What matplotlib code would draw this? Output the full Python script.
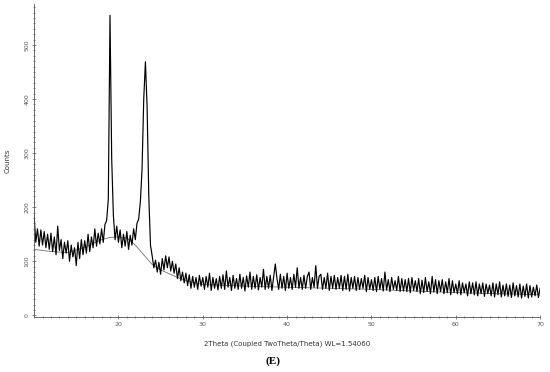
import matplotlib
matplotlib.use("Agg")
import numpy as np
import matplotlib.pyplot as plt
from matplotlib.ticker import MultipleLocator

# scan: 10 -> 70 deg, 0.2 deg step
two_theta_start = 10.0
two_theta_step = 0.2
counts = [
    185, 135, 160, 128, 158, 130, 155, 125, 150, 122,
    152, 118, 145, 112, 165, 120, 140, 105, 135, 115,
    138, 100, 130, 108, 125, 92, 135, 105, 140, 112,
    138, 115, 150, 118, 145, 125, 160, 128, 152, 132,
    160, 135, 168, 175, 215, 555, 290, 185, 140, 165,
    135, 158, 125, 150, 128, 155, 122, 148, 130, 160,
    140, 170, 178, 210, 270, 400, 469, 385, 220, 130,
    110, 88, 102, 80, 98, 76, 105, 84, 110, 88,
    108, 82, 100, 78, 95, 68, 88, 64, 80, 60,
    78, 55, 75, 50, 72, 52, 70, 48, 74, 54,
    70, 48, 72, 52, 78, 46, 70, 50, 68, 47,
    72, 50, 75, 48, 82, 52, 70, 46, 74, 50,
    68, 48, 76, 50, 70, 45, 73, 52, 80, 48,
    72, 50, 75, 47, 70, 52, 85, 48, 72, 50,
    74, 46, 70, 95, 68, 48, 76, 50, 72, 46,
    78, 50, 70, 48, 76, 52, 88, 50, 70, 48,
    74, 50, 72, 80, 48, 70, 52, 92, 50, 72,
    76, 48, 70, 50, 78, 46, 72, 50, 74, 48,
    70, 50, 74, 46, 72, 48, 76, 45, 70, 50,
    72, 46, 70, 48, 68, 50, 74, 44, 70, 48,
    66, 46, 70, 44, 72, 48, 68, 45, 80, 47,
    66, 44, 70, 48, 64, 46, 72, 44, 68, 45,
    66, 44, 68, 42, 70, 46, 64, 44, 68, 40,
    65, 42, 70, 44, 62, 40, 72, 43, 66, 40,
    64, 44, 66, 40, 62, 42, 68, 38, 64, 42,
    58, 40, 64, 38, 60, 42, 58, 36, 62, 40,
    60, 38, 62, 36, 58, 40, 60, 35, 58, 40,
    56, 36, 60, 34, 58, 38, 62, 34, 56, 36,
    58, 35, 56, 33, 60, 36, 55, 34, 58, 32,
    54, 35, 58, 32, 55, 34, 52, 36, 56, 33,
    50,
]
two_theta = two_theta_start + two_theta_step * np.arange(len(counts))

# fitted background
bg_theta = [10, 12, 14, 16, 18, 19, 20, 21, 22, 23, 24, 25, 26, 27, 28, 30, 35, 40, 50, 60, 70]
bg_counts = [122, 118, 116, 126, 140, 144, 145, 143, 130, 112, 94, 84, 77, 70, 64, 57, 54, 52, 48, 42, 38]

fig = plt.figure(figsize=(5.5, 3.72), dpi=100)
ax = fig.add_axes([0.062, 0.148, 0.92, 0.84])
ax.plot(bg_theta, bg_counts, color="#707070", linewidth=0.6, zorder=1)
ax.plot(two_theta, counts, color="black", linewidth=0.85, zorder=2)

ax.set_xlim(10, 70)
ax.set_ylim(-3, 575)
ax.set_xticks([20, 30, 40, 50, 60, 70])
ax.xaxis.set_minor_locator(MultipleLocator(1))
ax.yaxis.set_major_locator(MultipleLocator(100))
ax.yaxis.set_minor_locator(MultipleLocator(10))

for s in ["top", "right"]:
    ax.spines[s].set_visible(False)
for s in ["left", "bottom"]:
    ax.spines[s].set_color("#555555")
    ax.spines[s].set_linewidth(0.6)
ax.tick_params(which="both", colors="#555555", labelsize=4.5, width=0.5, direction="inout")
ax.tick_params(which="major", length=3, pad=2)
ax.tick_params(which="minor", length=2)
for lbl in ax.get_yticklabels():
    lbl.set_rotation(90)
    lbl.set_va("center")

ax.set_ylabel("Counts", fontsize=5, color="#333333", labelpad=10)
ax.set_xlabel("2Theta (Coupled TwoTheta/Theta) WL=1.54060", fontsize=5, color="#333333", labelpad=10)
fig.text(0.497, 0.022, "(E)", fontsize=8, fontweight="bold", family="Liberation Serif", ha="center")

fig.savefig("out.png", dpi=100, facecolor="white")
